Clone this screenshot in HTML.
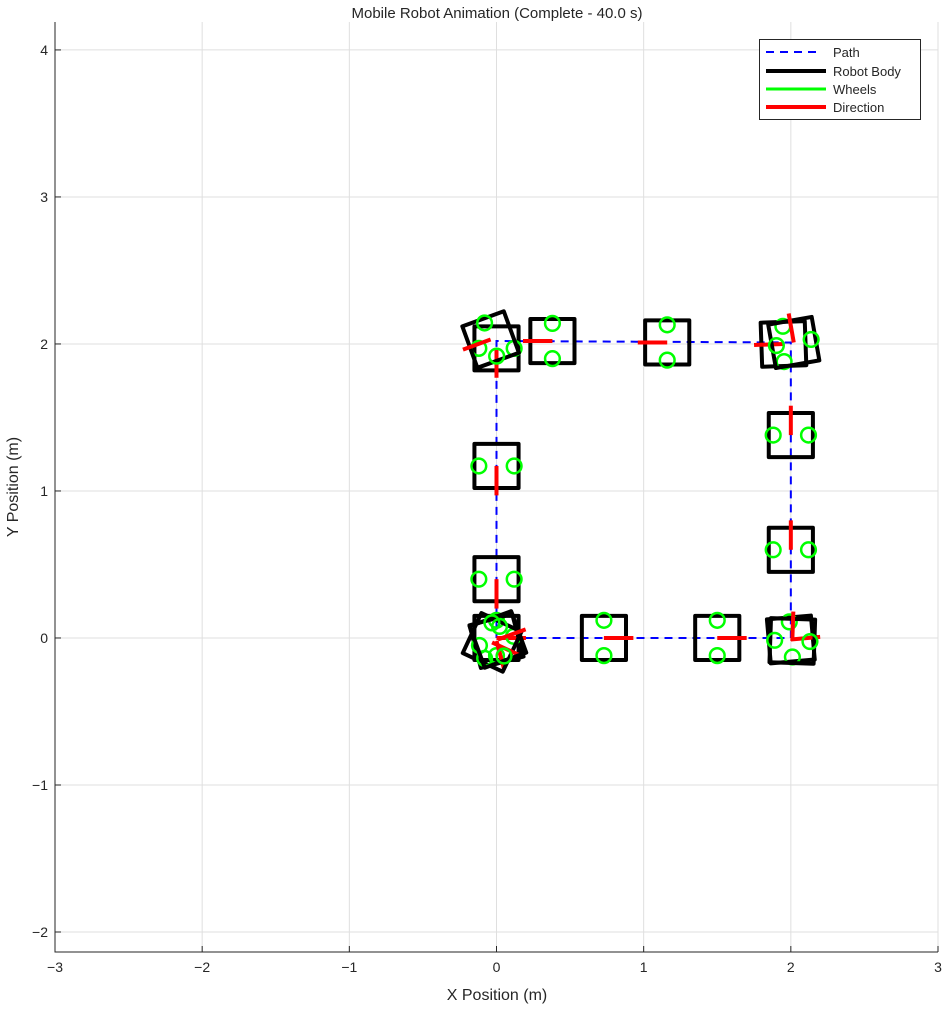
<!DOCTYPE html>
<html><head><meta charset="utf-8">
<style>
html,body{margin:0;padding:0;background:#fff;}
svg text{font-family:"Liberation Sans",sans-serif;fill:#262626;}
</style></head>
<body>
<svg id="chart" width="945" height="1005" viewBox="0 0 945 1005">
<rect x="0" y="0" width="945" height="1005" fill="#fff"/>
<g id="grid"></g>
<g id="axes"></g>
<g id="marks"></g>
<text x="497" y="18" text-anchor="middle" font-size="15">Mobile Robot Animation (Complete - 40.0 s)</text>
<text x="497" y="1000" text-anchor="middle" font-size="16">X Position (m)</text>
<text x="18" y="487" text-anchor="middle" font-size="16" transform="rotate(-90 18 487)">Y Position (m)</text>
<g>
<rect x="759.5" y="39.5" width="161" height="80" fill="#fff" stroke="#262626" stroke-width="1"/>
<g><line x1="766" y1="52" x2="822" y2="52" stroke="#00f" stroke-width="2" stroke-dasharray="8,6"/><text x="833" y="57" font-size="13">Path</text></g>
<g><line x1="766" y1="71" x2="826" y2="71" stroke="#000" stroke-width="4"/><text x="833" y="76" font-size="13">Robot Body</text></g>
<g><line x1="766" y1="89" x2="826" y2="89" stroke="#0f0" stroke-width="3"/><text x="833" y="94" font-size="13">Wheels</text></g>
<g><line x1="766" y1="107" x2="826" y2="107" stroke="#f00" stroke-width="4"/><text x="833" y="112" font-size="13">Direction</text></g>
</g>
</svg>
<script>
const xTicks=[-3,-2,-1,0,1,2,3];
const yTicks=[-2,-1,0,1,2,3,4];
const pathX=[0,2,2,0,0];
const pathY=[0,0,2.01,2.02,0];
const poseX=[0,0,-0.03,0.01,0.73,1.5,2.0,2.01,2.0,2.0,1.95,2.02,1.16,0.38,0.0,-0.04,0.0,0.0];
const poseY=[0,-0.02,-0.03,-0.01,0,0,-0.01,-0.02,0.6,1.38,2.0,2.01,2.01,2.02,1.97,2.03,1.17,0.4];
const poseTh=[0,-75,-25,20,0,0,5,88,90,90,182,100,180,180,270,200,270,270];

const X0=55,X1=938,Y0=22,Y1=952,xmin=-3,xmax=3,ymin=-2.136,ymax=4.19;
const sx=v=>X0+(v-xmin)/(xmax-xmin)*(X1-X0);
const sy=v=>Y1-(v-ymin)/(ymax-ymin)*(Y1-Y0);
const NS='http://www.w3.org/2000/svg';
function mk(tag,attrs,parent){const e=document.createElementNS(NS,tag);for(const k in attrs)e.setAttribute(k,attrs[k]);parent.appendChild(e);return e;}
const grid=document.getElementById('grid'),axes=document.getElementById('axes'),marks=document.getElementById('marks');

xTicks.forEach(t=>{
  const l=mk('line',{x1:sx(t),x2:sx(t),y1:Y0,y2:Y1,stroke:'#dfdfdf','stroke-width':1},grid);
  
  
  const tk=mk('line',{x1:sx(t),x2:sx(t),y1:Y1,y2:Y1-6,stroke:'#262626'},axes);
  
  
  const tx=mk('text',{x:sx(t),y:Y1+20,'text-anchor':'middle','font-size':14},axes);
  tx.textContent=t<0?'\u2212'+(-t):String(t);
  
  
});
yTicks.forEach(t=>{
  const l=mk('line',{x1:X0,x2:X1,y1:sy(t),y2:sy(t),stroke:'#dfdfdf','stroke-width':1},grid);
  
  
  const tk=mk('line',{x1:X0,x2:X0+6,y1:sy(t),y2:sy(t),stroke:'#262626'},axes);
  
  
  const tx=mk('text',{x:X0-7,y:sy(t)+5,'text-anchor':'end','font-size':14},axes);
  tx.textContent=t<0?'\u2212'+(-t):String(t);
  
  
});
const ax=mk('path',{d:`M${X0},${Y0}V${Y1}H${X1}`,fill:'none',stroke:'#262626','stroke-width':1},axes);



const pth=mk('polyline',{points:pathX.map((x,i)=>sx(x)+','+sy(pathY[i])).join(' '),fill:'none',stroke:'#00f','stroke-width':2,'stroke-dasharray':'8,6'},marks);



const H=0.15,WY=0.12,WR=0.05,DL=0.2;
poseX.forEach((x,i)=>{
  const y=poseY[i],th=poseTh[i]*Math.PI/180,c=Math.cos(th),s=Math.sin(th);
  const tr=(bx,by)=>[x+bx*c-by*s,y+bx*s+by*c];
  const g=mk('g',{},marks);
  
  
  const pts=[[-H,-H],[H,-H],[H,H],[-H,H]].map(p=>{const q=tr(p[0],p[1]);return sx(q[0])+','+sy(q[1]);}).join(' ');
  const b=mk('polygon',{points:pts,fill:'none',stroke:'#000','stroke-width':4,'stroke-linejoin':'round'},g);
  
  
  [WY,-WY].forEach(w=>{
    const q=tr(0,w);
    const cc=mk('circle',{cx:sx(q[0]),cy:sy(q[1]),r:WR*147,fill:'none',stroke:'#0f0','stroke-width':2.5},g);
    
    
  });
  const e=tr(DL,0);
  const d=mk('line',{x1:sx(x),y1:sy(y),x2:sx(e[0]),y2:sy(e[1]),stroke:'#f00','stroke-width':4},g);
  
  
});
</script>
</body></html>
